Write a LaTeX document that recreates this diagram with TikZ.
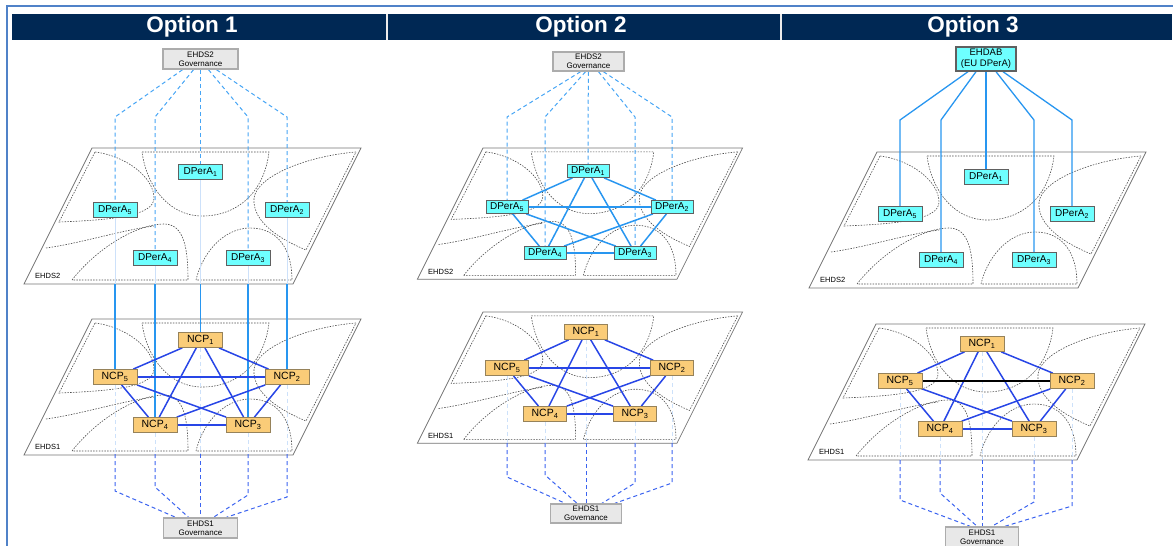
\documentclass[tikz,border=0pt]{standalone}
\usepackage{fontspec}
\setmainfont{Liberation Sans}
\usetikzlibrary{calc}
\pgfdeclarelayer{bg}
\pgfdeclarelayer{edges}
\pgfsetlayers{bg,edges,main}
\definecolor{navy}{RGB}{0,40,84}
\definecolor{cyanbox}{RGB}{110,255,255}
\definecolor{ncpfill}{RGB}{250,204,120}
\definecolor{ncpedge}{RGB}{150,130,90}
\definecolor{brightblue}{RGB}{40,150,240}
\definecolor{lightblue}{RGB}{70,165,245}
\definecolor{darkblue}{RGB}{40,70,230}
\definecolor{dashblue}{RGB}{60,100,240}
\definecolor{paleblue}{RGB}{205,225,250}
\definecolor{framebl}{RGB}{80,130,200}
\tikzset{
  dpera/.style={draw=gray!75!black, fill=cyanbox, line width=0.8pt, minimum width=44pt, minimum height=15pt, inner sep=0pt, font=\fontsize{10}{10}\selectfont},
  ncp/.style={draw=ncpedge, fill=ncpfill, line width=0.8pt, minimum width=44pt, minimum height=15pt, inner sep=0pt, font=\fontsize{10.5}{10}\selectfont},
  gov/.style={draw=gray!65, fill=gray!18, line width=1.5pt, minimum width=74pt, minimum height=20pt, inner sep=0pt, align=center, font=\fontsize{8}{9}\selectfont},
  title/.style={text=white, font=\bfseries\fontsize{22.5}{22.5}\selectfont, inner sep=0pt},
  ehds/.style={font=\fontsize{7.5}{8}\selectfont, inner sep=0pt},
  planeedge/.style={draw=gray!90!black, line width=0.7pt},
  region/.style={draw=black!70, dash pattern=on 1.5pt off 1.3pt, line width=0.6pt},
  topdash/.style={draw=lightblue, dash pattern=on 4pt off 3pt, line width=1pt},
  botdash/.style={draw=dashblue, dash pattern=on 4pt off 3pt, line width=1pt},
  paleline/.style={draw=paleblue, line width=1pt},
  paledash/.style={draw=paleblue, dash pattern=on 4pt off 3pt, line width=1pt},
  link/.style={draw=brightblue, line width=1.3pt},
  dlink/.style={draw=brightblue, line width=1.5pt},
  ncplink/.style={draw=darkblue, line width=1.5pt},
}
\newcommand{\myplane}[4]{%
\begin{scope}[shift={(#1,#2)},scale=#3]
\draw[planeedge] (0,0) -- (269,0) -- (201,136) -- (-68,136) -- cycle;
\draw[region] (3,4) .. controls (35,8) and (62,30) .. (62,50) .. controls (62,68) and (20,72) .. (-33,74) -- cycle;
\draw[region] (50,4) -- (177,4) .. controls (172,45) and (145,68) .. (110,68) .. controls (78,68) and (55,40) .. (50,4) -- cycle;
\draw[region] (264,4) .. controls (215,8) and (165,28) .. (162,50) .. controls (160,75) and (190,92) .. (214,102) -- cycle;
\draw[region] (-20,132) .. controls (5,100) and (45,76) .. (72,76) .. controls (92,76) and (96,100) .. (96,132) -- cycle;
\draw[region] (-46,100) .. controls (-10,95) and (30,82) .. (62,78);
\draw[region] (104,132) .. controls (112,100) and (135,80) .. (158,80) .. controls (185,80) and (200,100) .. (200,132) -- cycle;
\node[ehds,anchor=west] at (-57,128) {#4};
\end{scope}}
\begin{document}
\begin{tikzpicture}[x=1pt,y=-1pt]
\useasboundingbox (0,0) rectangle (1173,546);
% frame and header
\draw[framebl, line width=1.5pt] (7,546) -- (7,6) -- (1173,6);
\fill[navy] (12,14) rectangle (1172,40);
\draw[white!85!gray, line width=1.5pt] (387,14) -- (387,40);
\draw[white!85!gray, line width=1.5pt] (781,14) -- (781,40);
\node[title] (t1) at (192,27) {Option 1};
\node[title] (t2) at (581,27) {Option 2};
\node[title] (t3) at (973,27) {Option 3};

% planes
\begin{pgfonlayer}{bg}
\myplane{92}{148}{1}{EHDS2}
\myplane{92}{319}{1}{EHDS1}
\myplane{483}{148}{0.965}{EHDS2}
\myplane{483}{312}{0.965}{EHDS1}
\myplane{877}{152}{1}{EHDS2}
\myplane{876}{324}{1}{EHDS1}
\end{pgfonlayer}

% ---------------- Option 1 nodes
\node[gov, minimum width=75pt] (o1g2) at (200.5,59) {EHDS2\\Governance};
\node[dpera] (o1d1) at (200.5,172) {DPerA\textsubscript{1}};
\node[dpera] (o1d5) at (115,210) {DPerA\textsubscript{5}};
\node[dpera] (o1d2) at (287,210) {DPerA\textsubscript{2}};
\node[dpera] (o1d4) at (155,258) {DPerA\textsubscript{4}};
\node[dpera] (o1d3) at (248,258) {DPerA\textsubscript{3}};
\node[ncp] (o1n1) at (200.5,340) {NCP\textsubscript{1}};
\node[ncp] (o1n5) at (115,377) {NCP\textsubscript{5}};
\node[ncp] (o1n2) at (287,377) {NCP\textsubscript{2}};
\node[ncp] (o1n4) at (155,425) {NCP\textsubscript{4}};
\node[ncp] (o1n3) at (248,425) {NCP\textsubscript{3}};
\node[gov] (o1g1) at (200.5,528) {EHDS1\\Governance};

% ---------------- Option 2 nodes
\node[gov, minimum width=71pt, minimum height=19pt] (o2g2) at (588.5,61.5) {EHDS2\\Governance};
\node[dpera, minimum width=42pt, minimum height=13pt] (o2d1) at (588,171) {DPerA\textsubscript{1}};
\node[dpera, minimum width=42pt, minimum height=13pt] (o2d5) at (507,207) {DPerA\textsubscript{5}};
\node[dpera, minimum width=42pt, minimum height=13pt] (o2d2) at (672,207) {DPerA\textsubscript{2}};
\node[dpera, minimum width=42pt, minimum height=13pt] (o2d4) at (545,253) {DPerA\textsubscript{4}};
\node[dpera, minimum width=42pt, minimum height=13pt] (o2d3) at (635,253) {DPerA\textsubscript{3}};
\node[ncp, minimum width=43pt] (o2n1) at (586,332) {NCP\textsubscript{1}};
\node[ncp, minimum width=43pt] (o2n5) at (507,368) {NCP\textsubscript{5}};
\node[ncp, minimum width=43pt] (o2n2) at (672,368) {NCP\textsubscript{2}};
\node[ncp, minimum width=43pt] (o2n4) at (545,414) {NCP\textsubscript{4}};
\node[ncp, minimum width=43pt] (o2n3) at (635,414) {NCP\textsubscript{3}};
\node[gov, minimum width=71pt, minimum height=19pt] (o2g1) at (586,513.5) {EHDS1\\Governance};

% ---------------- Option 3 nodes
\node[dpera, minimum width=60pt, minimum height=24pt, line width=1.4pt, align=center, font=\fontsize{9.5}{11}\selectfont] (o3top) at (986,59) {EHDAB\\(EU DPerA)};
\node[dpera] (o3d1) at (986,177) {DPerA\textsubscript{1}};
\node[dpera] (o3d5) at (900,214) {DPerA\textsubscript{5}};
\node[dpera] (o3d2) at (1072,214) {DPerA\textsubscript{2}};
\node[dpera] (o3d4) at (941,260) {DPerA\textsubscript{4}};
\node[dpera] (o3d3) at (1034,260) {DPerA\textsubscript{3}};
\node[ncp] (o3n1) at (982,344) {NCP\textsubscript{1}};
\node[ncp] (o3n5) at (900,381) {NCP\textsubscript{5}};
\node[ncp] (o3n2) at (1072,381) {NCP\textsubscript{2}};
\node[ncp] (o3n4) at (940,429) {NCP\textsubscript{4}};
\node[ncp] (o3n3) at (1034,429) {NCP\textsubscript{3}};
\node[gov, minimum width=73pt, minimum height=21pt] (o3g1) at (982,537.5) {EHDS1\\Governance};

\begin{pgfonlayer}{edges}
% Option 1 vertical connectors
\foreach \i/\s in {5/-18, 4/-7, 1/0, 3/8, 2/16}{
  \draw[topdash] ([xshift=\s pt]o1g2.south) -- (o1d\i.north |- 0,117) -- (o1d\i.north);
  \draw[paleline] (o1d\i.south) -- (o1d\i.south |- 0,284);
  \draw[link] (o1d\i.south |- 0,284) -- (o1n\i.north);
  \draw[paledash] (o1n\i.south) -- (o1n\i.south |- 0,454);
}
\foreach \i/\s/\by in {5/-25/491, 4/-12/487, 1/0/500, 3/13/495, 2/26/497}{
  \draw[botdash] (o1n\i.south |- 0,454) -- (o1n\i.south |- 0,\by) -- ([xshift=\s pt]o1g1.north);
}
\foreach \a/\b in {1/2,1/3,1/4,1/5,2/3,2/4,2/5,3/4,3/5,4/5}{
  \draw[ncplink] (o1n\a) -- (o1n\b);
}
% Option 2
\foreach \i/\s in {5/-8, 4/-3, 1/0, 3/10, 2/15}{
  \draw[topdash] ([xshift=\s pt]o2g2.south) -- (o2d\i.north |- 0,117) -- (o2d\i.north);
  \draw[paledash] (o2n\i.south) -- (o2n\i.south |- 0,443);
}
\foreach \i/\s/\by in {5/-21/477, 4/-9/475, 1/0/490, 3/16/483, 2/29/483}{
  \draw[botdash] (o2n\i.south |- 0,443) -- (o2n\i.south |- 0,\by) -- ([xshift=\s pt]o2g1.north);
}
\foreach \a/\b in {1/2,1/3,1/4,1/5,2/3,2/4,2/5,3/4,3/5,4/5}{
  \draw[dlink] (o2d\a) -- (o2d\b);
  \draw[ncplink] (o2n\a) -- (o2n\b);
}
% Option 3
\foreach \i/\s in {5/-18, 4/-10, 1/0, 3/10, 2/17}{
  \draw[link] ([xshift=\s pt]o3top.south) -- (o3d\i.north |- 0,120) -- (o3d\i.north);
  \draw[paledash] (o3n\i.south) -- (o3n\i.south |- 0,460);
}
\foreach \i/\s/\by in {5/-12/500, 4/-5/493, 1/0/510, 3/10/502, 2/23/506}{
  \draw[botdash] (o3n\i.south |- 0,460) -- (o3n\i.south |- 0,\by) -- ([xshift=\s pt]o3g1.north);
}
\foreach \a/\b in {1/2,1/3,1/4,1/5,2/3,2/4,3/4,3/5,4/5}{
  \draw[ncplink] (o3n\a) -- (o3n\b);
}
\draw[line width=1.5pt, black] (o3n5) -- (o3n2);
\end{pgfonlayer}
\end{tikzpicture}
\end{document}
